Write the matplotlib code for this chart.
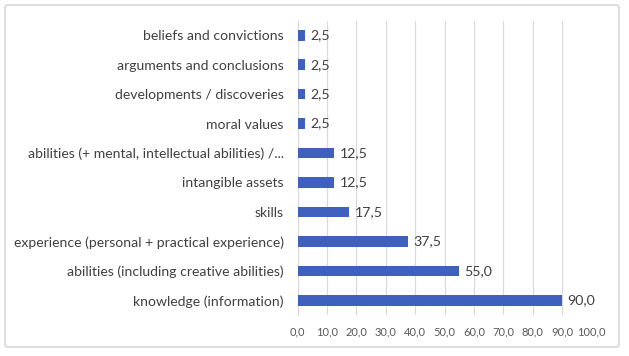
import matplotlib
matplotlib.use("Agg")
import matplotlib.pyplot as plt
from matplotlib.patches import FancyBboxPatch

categories = [
    "knowledge (information)",
    "abilities (including creative abilities)",
    "experience (personal + practical experience)",
    "skills",
    "intangible assets",
    "abilities (+ mental, intellectual abilities) /...",
    "moral values",
    "developments / discoveries",
    "arguments and conclusions",
    "beliefs and convictions",
]
values = [90.0, 55.0, 37.5, 17.5, 12.5, 12.5, 2.5, 2.5, 2.5, 2.5]
xticks = [0, 10, 20, 30, 40, 50, 60, 70, 80, 90, 100]

plt.rcParams['font.family'] = ['Lato', 'DejaVu Sans']

fig = plt.figure(figsize=(6.29, 3.56), dpi=100)
ax = fig.add_axes([0.4733, 0.1152, 0.4668, 0.8272])

bar_color = "#4060C0"
ypos = list(range(len(categories)))
ax.barh(ypos, values, height=0.36, color=bar_color, zorder=3)
for y, v in zip(ypos, values):
    ax.text(v + 1.8, y, f"{v:.1f}".replace(".", ","), va="center", ha="left",
            fontsize=10.2, color="#404040")

ax.set_xlim(0, 100)
ax.set_ylim(-0.5, len(categories) - 0.5)
ax.set_yticks(ypos)
ax.set_yticklabels(categories, fontsize=10.1, color="#404040")
ax.set_xticks(xticks)
ax.set_xticklabels([f"{t:.1f}".replace(".", ",") for t in xticks], fontsize=8, color="#595959")
ax.tick_params(axis="both", length=0)
ax.tick_params(axis="y", pad=10)
ax.tick_params(axis="x", pad=8)
ax.xaxis.grid(True, color="#D9D9D9", linewidth=0.8, zorder=0)
for s in ["top", "right", "bottom"]:
    ax.spines[s].set_visible(False)
ax.spines["left"].set_color("#D9D9D9")
ax.spines["left"].set_linewidth(0.8)

border = FancyBboxPatch((5 / 629, 9 / 356), 614 / 629, 342 / 356,
                        boxstyle="round,pad=0,rounding_size=0.005",
                        transform=fig.transFigure, fill=False,
                        edgecolor="#D0D0D0", linewidth=1.0)
fig.patches.append(border)

fig.savefig("out.png", dpi=100)
